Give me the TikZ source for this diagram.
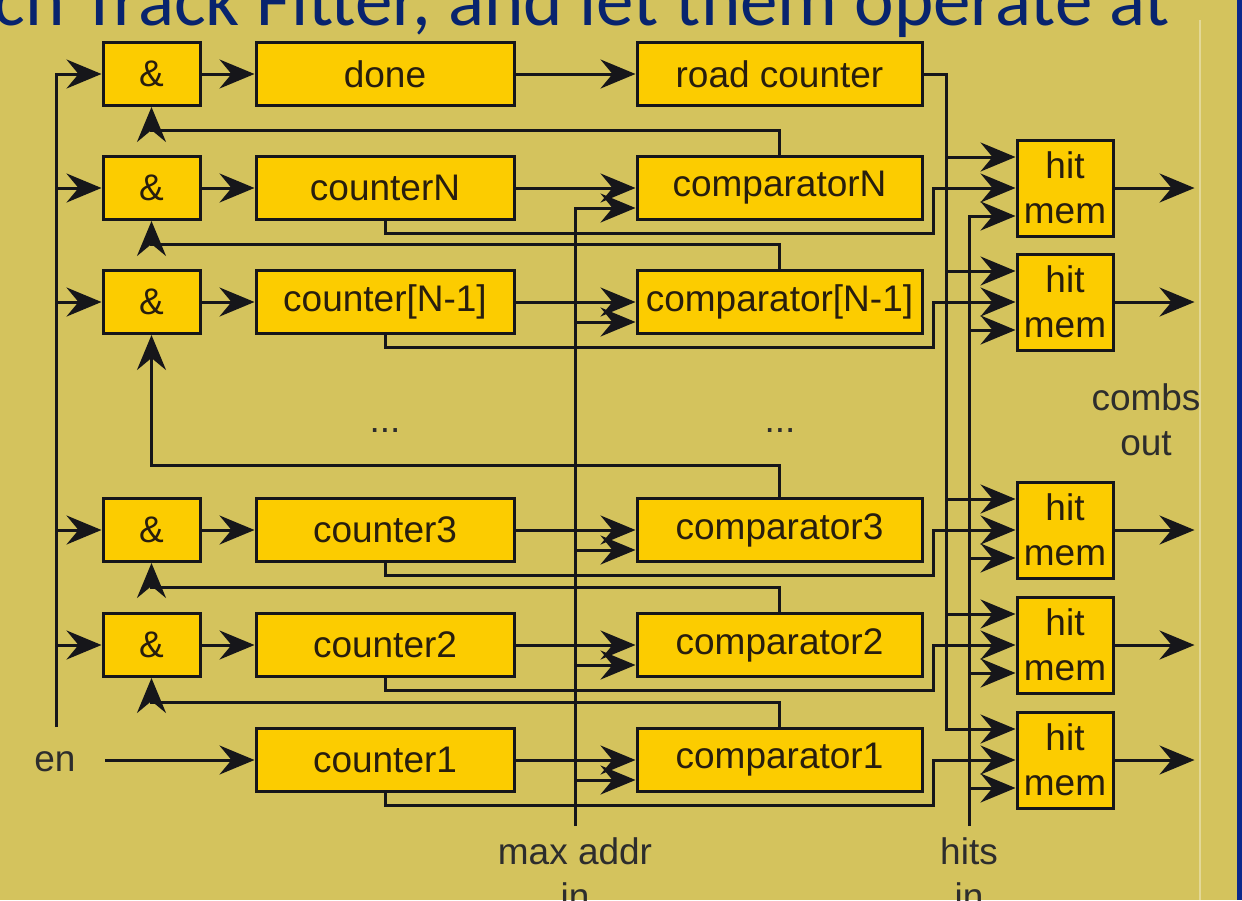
\documentclass[tikz,border=0pt]{standalone}
\usepackage{fontspec}
\setmainfont{Liberation Sans}
\newfontfamily\titlefont{Carlito}
\usetikzlibrary{arrows.meta}

\definecolor{bgc}{RGB}{212,195,93}
\definecolor{boxc}{RGB}{252,204,0}
\definecolor{wire}{RGB}{22,22,26}
\definecolor{ink}{RGB}{40,30,14}
\definecolor{lblc}{RGB}{45,45,45}
\definecolor{navy}{RGB}{8,36,110}
\definecolor{stripe}{RGB}{10,40,140}

\begin{document}
\begin{tikzpicture}[x=1pt,y=-1pt,
  blk/.style={draw=wire, line width=3pt, fill=boxc, minimum height=63pt,
    inner sep=0pt, text=ink, font=\fontsize{37}{45}\selectfont},
  andbox/.style={blk, minimum width=97pt},
  cntbox/.style={blk, minimum width=258pt},
  cmpbox/.style={blk, minimum width=285pt},
  hitbox/.style={blk, minimum width=96pt, minimum height=96pt, align=center},
  w/.style={draw=wire, line width=3pt},
  a/.style={w, -{Stealth[length=35pt,width=29pt,inset=12pt]}},
  lbl/.style={text=lblc, font=\fontsize{37}{45}\selectfont, align=center, inner sep=0pt},
]
% background, frame stripe and page heading
\fill[bgc] (0,0) rectangle (1242,900);
\useasboundingbox (0,0) rectangle (1242,900);
\draw[bgc!65!white, line width=1.5pt] (1200,20) -- (1200,900);
\fill[stripe] (1237,0) rectangle (1242,900);
\begin{scope}
  \clip (0,0) rectangle (1242,900);
  \node[anchor=base east, inner sep=0pt, text=navy,
        font=\titlefont\fontsize{75}{75}\selectfont] (heading) at (1170,25)
        {ch Track Fitter, and let them operate at};
\end{scope}

% AND gates
\node[andbox] (and0) at (151.5,74)  {\&};
\node[andbox] (andN) at (151.5,188) {\&};
\node[andbox] (andM) at (151.5,302) {\&};
\node[andbox] (and3) at (151.5,530) {\&};
\node[andbox] (and2) at (151.5,645) {\&};

% counters
\node[cntbox] (done) at (385,74)  {done};
\node[cntbox] (cntN) at (385,188) {counterN};
\node[cntbox] (cntM) at (385,302) {counter[N-1]};
\node[cntbox] (cnt3) at (385,530) {counter3};
\node[cntbox] (cnt2) at (385,645) {counter2};
\node[cntbox] (cnt1) at (385,760) {counter1};

% comparators
\node[cmpbox] (road) at (779.5,74)  {road counter};
\node[cmpbox] (cmpN) at (779.5,188) {comparatorN};
\node[cmpbox] (cmpM) at (779.5,302) {comparator[N-1]};
\node[cmpbox] (cmp3) at (779.5,530) {comparator3};
\node[cmpbox] (cmp2) at (779.5,645) {comparator2};
\node[cmpbox] (cmp1) at (779.5,760) {comparator1};

% hit memories
\node[hitbox] (hitN) at (1065,188) {hit\\mem};
\node[hitbox] (hitM) at (1065,302) {hit\\mem};
\node[hitbox] (hit3) at (1065,530) {hit\\mem};
\node[hitbox] (hit2) at (1065,645) {hit\\mem};
\node[hitbox] (hit1) at (1065,760) {hit\\mem};

% free labels
\node[lbl] (en) at (55,762) {en};
\node[lbl, anchor=base] (dotsL) at (385,432) {...};
\node[lbl, anchor=base] (dotsR) at (780,432) {...};
\node[lbl] (combs) at (1146,420) {combs\\out};
\node[lbl, anchor=north] (maxin) at (575,837) {max addr\\in};
\node[lbl, anchor=north] (hitsin) at (969,837) {hits\\in};

% bus positions
\coordinate (enx) at (56,0);
\coordinate (enEnd) at (56,727);
\coordinate (enStart) at (105,760);
\coordinate (max) at (575,0);
\coordinate (maEnd) at (575,826);
\coordinate (avx) at (933,0);
\coordinate (rbx) at (946,0);
\coordinate (hbx) at (969,0);
\coordinate (hbEnd) at (969,826);

\foreach \r in {N,M,3,2,1} {
  \path ([yshift=31pt]hit\r.west) coordinate (hit\r a)
        ([yshift=-28pt]hit\r.west) coordinate (hit\r c)
        ([yshift=-20pt]cmp\r.west) coordinate (cmp\r b);
}

% enable line
\draw[a] (enEnd) -- (enx |- and0.west) -- (and0.west);
\foreach \n in {andN,andM,and3,and2} \draw[a] (enx |- \n.west) -- (\n.west);
\draw[a] (enStart) -- (cnt1.west);

% gates into counters
\draw[a] (and0.east) -- (done.west);
\draw[a] (andN.east) -- (cntN.west);
\draw[a] (andM.east) -- (cntM.west);
\draw[a] (and3.east) -- (cnt3.west);
\draw[a] (and2.east) -- (cnt2.west);
\draw[a] (done.east) -- (road.west);

% counters into comparators
\foreach \r in {N,M,3,2,1} \draw[a] (cnt\r.east) -- (cmp\r.west);

% max address bus
\draw[a] (maEnd) -- (max |- cmpNb) -- (cmpNb);
\foreach \r in {M,3,2,1} \draw[a] (max |- cmp\r b) -- (cmp\r b);

% comparator results back to the gates above
\draw[a] (cmpN.north) -- ++(0,-24.5) -| (and0.south);
\draw[a] (cmpM.north) -- ++(0,-24.5) -| (andN.south);
\draw[a] (cmp3.north) -- ++(0,-31.5) -| (andM.south);
\draw[a] (cmp2.north) -- ++(0,-24.5) -| (and3.south);
\draw[a] (cmp1.north) -- ++(0,-24.5) -| (and2.south);

% counter values as hit memory addresses
\foreach \r in {N,M,3,2,1}
  \draw[a] (cnt\r.south) -- ++(0,12.5) -| (avx |- hit\r.west) -- (hit\r.west);

% road counter bus
\draw[a] (road.east) -| (rbx |- hit1a) -- (hit1a);
\foreach \r in {N,M,3,2} \draw[a] (rbx |- hit\r a) -- (hit\r a);

% hits bus
\draw[a] (hbEnd) -- (hbx |- hitNc) -- (hitNc);
\foreach \r in {M,3,2,1} \draw[a] (hbx |- hit\r c) -- (hit\r c);

% outputs
\foreach \r in {N,M,3,2,1} \draw[a] (hit\r.east) -- ++(80,0);
\end{tikzpicture}
\end{document}
